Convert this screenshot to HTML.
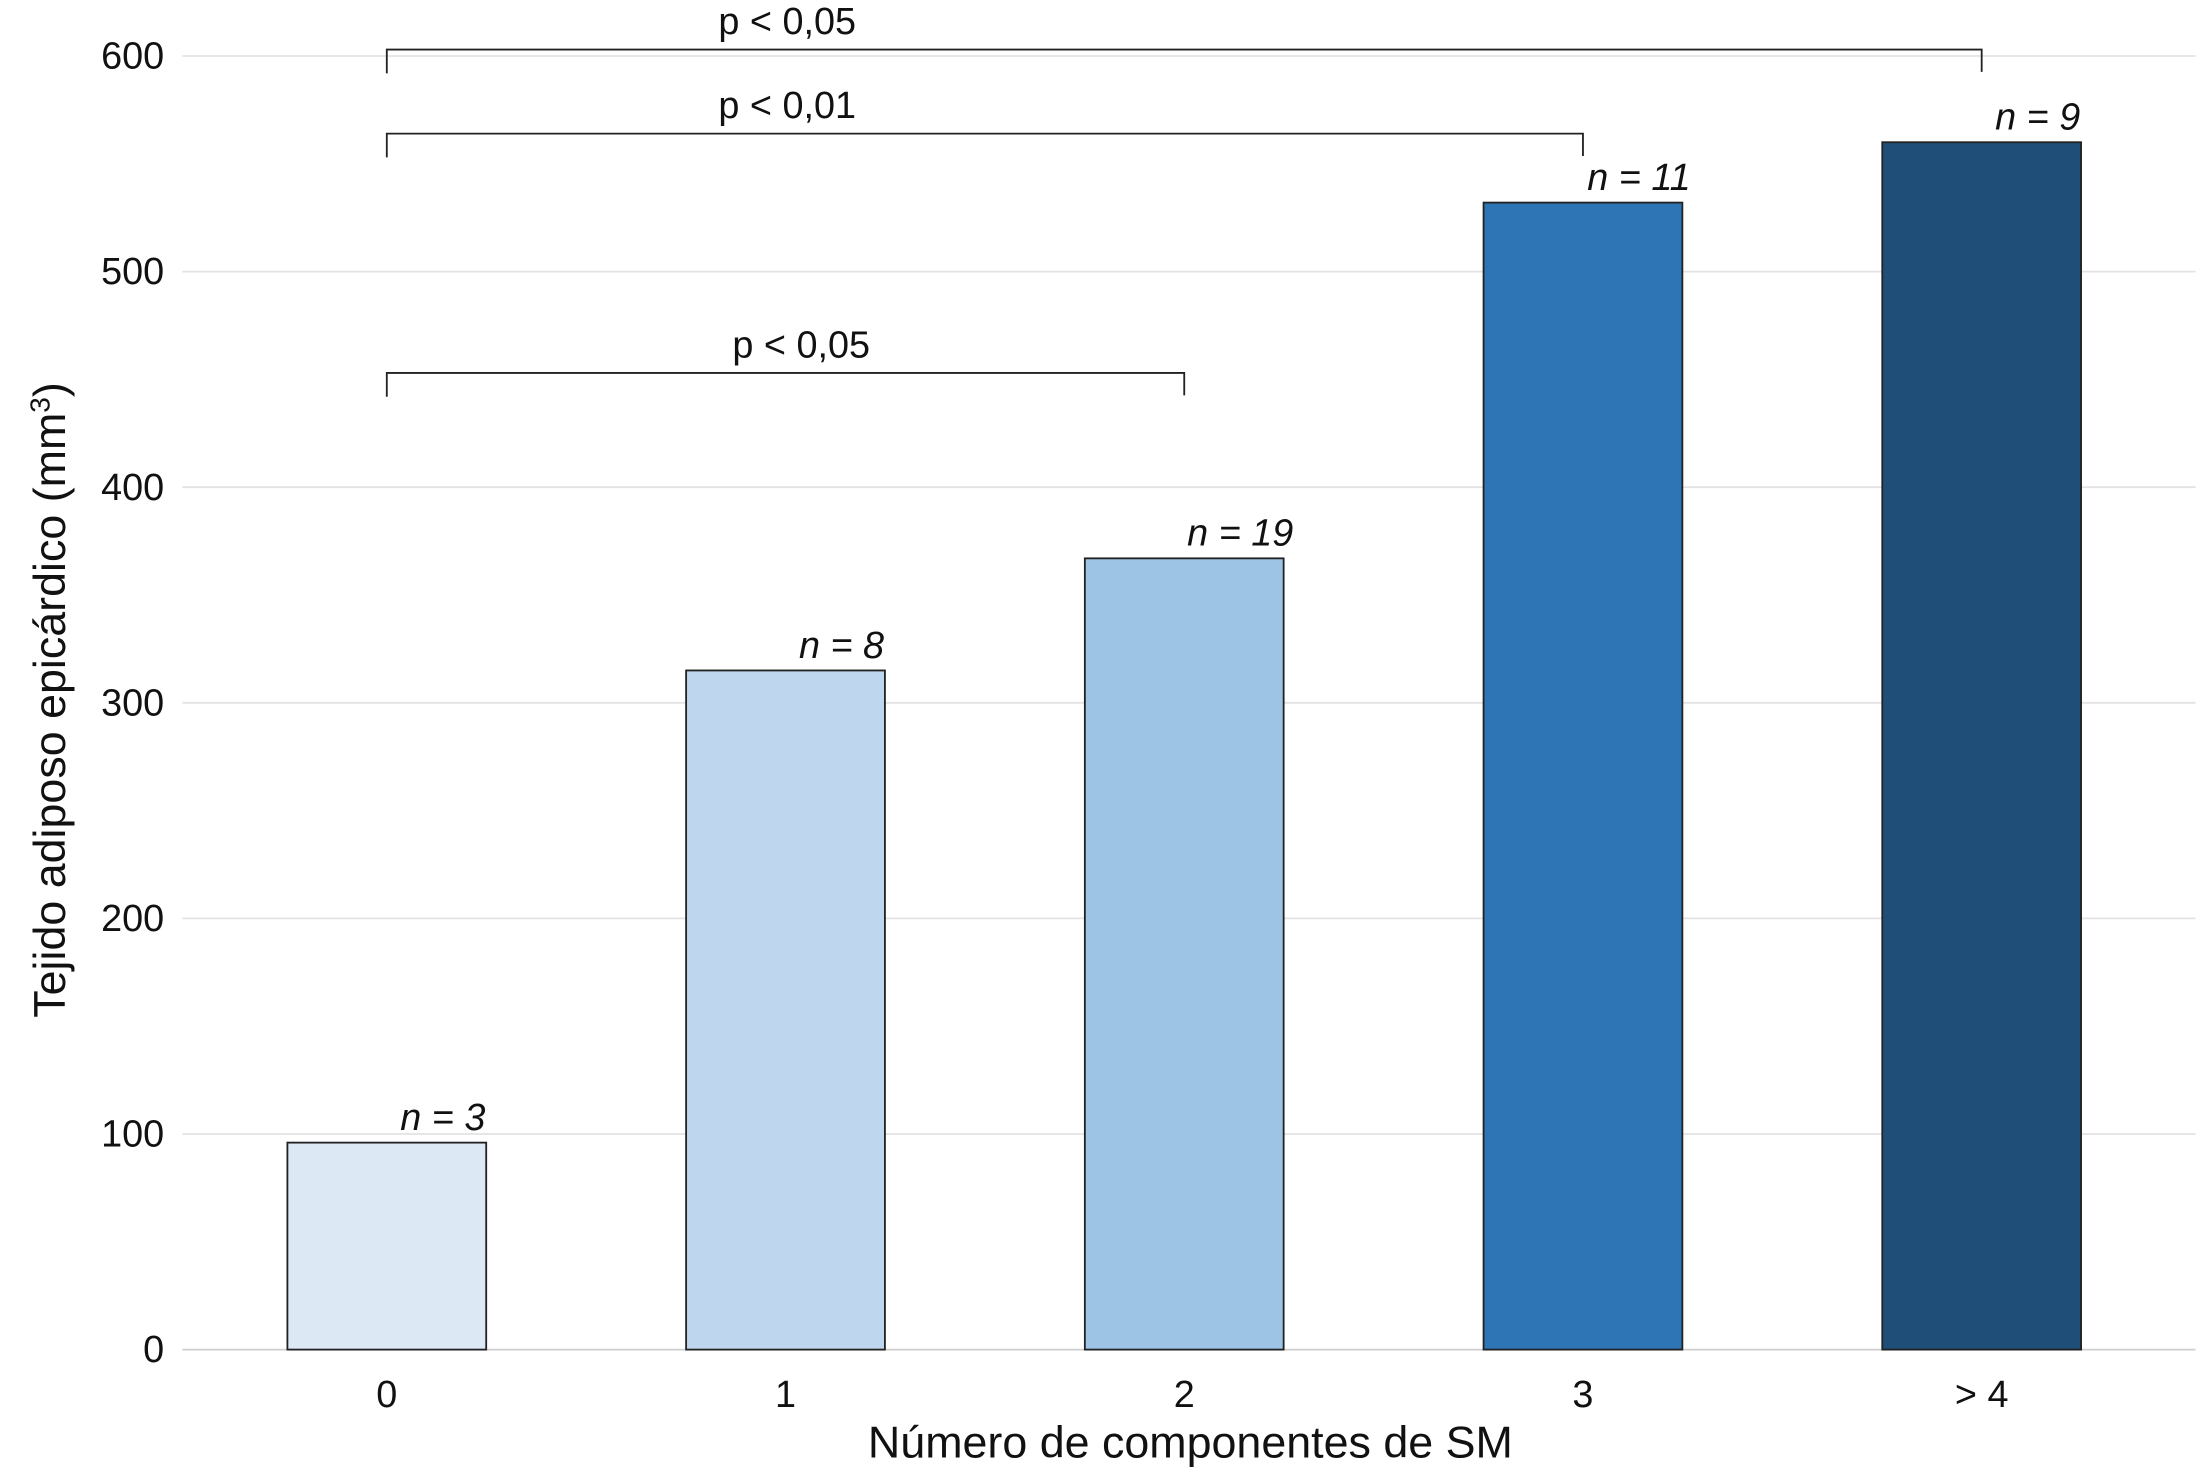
<!DOCTYPE html>
<html><head><meta charset="utf-8"><style>
html,body{margin:0;padding:0;background:#fff;}
svg{display:block;font-family:"Liberation Sans",Arial,sans-serif;}
</style></head><body>
<svg id="chart" width="2196" height="1470" viewBox="0 0 1568 1050" xmlns="http://www.w3.org/2000/svg">
<g id="grid"></g>
<g id="ylabels"></g>
<g id="bars"></g>
<g id="nlabels"></g>
<g id="xlabels"></g>
<g id="brackets"></g>
<text x="850" y="1041" text-anchor="middle" font-size="32" fill="#111">Número de componentes de SM</text>
<text transform="translate(46,500) rotate(-90)" text-anchor="middle" font-size="32" fill="#111">Tejido adiposo epicárdico (mm<tspan dy="-11" font-size="20">3</tspan><tspan dy="11">)</tspan></text>
</svg>
<script>
const categories = ["0","1","2","3","> 4"];
const values = [96, 315, 367, 532, 560];
const nLabels = ["n = 3","n = 8","n = 19","n = 11","n = 9"];
const yTicks = [0,100,200,300,400,500,600];
const colors = ["#dde8f5","#bed7ef","#9dc3e5","#2e75b6","#1f4e79"];
const brackets = [[0,4,"p < 0,05"],[0,3,"p < 0,01"],[0,2,"p < 0,05"]];
const bracketLevels = [603, 564, 453];

const NS="http://www.w3.org/2000/svg";
const y0=964, pxPer=924/600;
const yS=v=>y0-v*pxPer;
const xS=i=>276+i*284.8;
const bw=142;
function mk(tag,attrs,parent,text){const e=document.createElementNS(NS,tag);for(const k in attrs)e.setAttribute(k,attrs[k]);if(text!==undefined)e.textContent=text;document.getElementById(parent).appendChild(e);return e;}

yTicks.forEach(t=>{
  const l=mk("line",{x1:130,x2:1568,y1:yS(t),y2:yS(t),stroke:t===0?"#cfcfcf":"#e3e3e3","stroke-width":1.3},"grid");
  
  
  const tx=mk("text",{x:117,y:yS(t)+9,"text-anchor":"end","font-size":27,fill:"#111"},"ylabels",String(t));
  
  
});
categories.forEach((c,i)=>{
  const r=mk("rect",{x:xS(i)-bw/2,y:yS(values[i]),width:bw,height:y0-yS(values[i]),fill:colors[i],stroke:"#222","stroke-width":1.3},"bars");
  
  
  const n=mk("text",{x:xS(i)+40,y:yS(values[i])-9,"text-anchor":"middle","font-size":27,"font-style":"italic",fill:"#111"},"nlabels",nLabels[i]);
  
  
  const xl=mk("text",{x:xS(i),y:1005,"text-anchor":"middle","font-size":27,fill:"#111"},"xlabels",c);
  
  
});
brackets.forEach((b,k)=>{
  const yy=yS(bracketLevels[k]);
  const x1=xS(b[0]), x2=xS(b[1]);
  const p=mk("path",{d:`M${x1},${yy+17}V${yy}H${x2}V${yy+16}`,fill:"none",stroke:"#222","stroke-width":1.3},"brackets");
  
  
  const lx = b[1]===2 ? 572 : 562;
  const t=mk("text",{x:lx,y:yy-11,"text-anchor":"middle","font-size":27,fill:"#111"},"brackets",b[2]);
  
  
});
</script>
</body></html>
